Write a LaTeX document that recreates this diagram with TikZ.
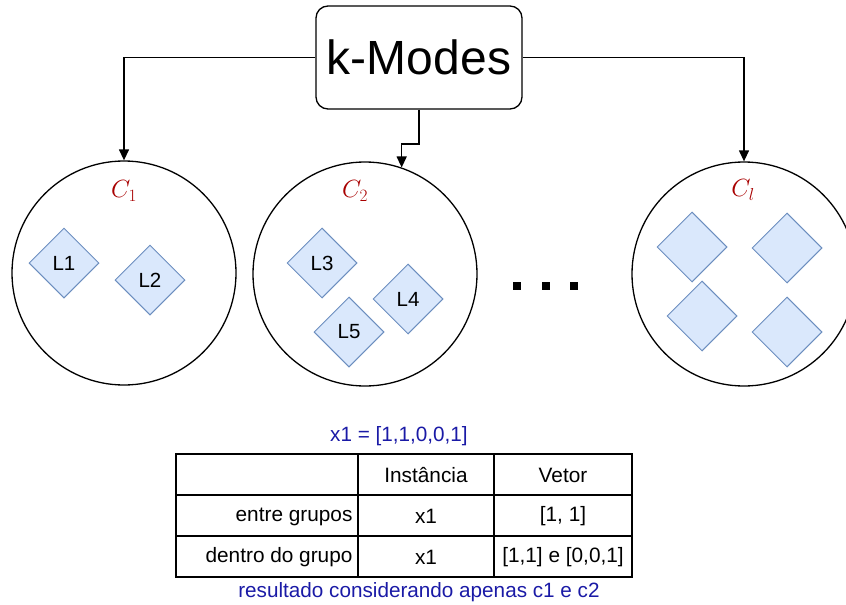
\documentclass[tikz,border=0pt]{standalone}
\usepackage{fontspec}
\setmainfont{Liberation Sans}
\usetikzlibrary{shapes.geometric, arrows.meta, positioning}

\definecolor{itemfill}{HTML}{DAE8FC}
\definecolor{itemdraw}{HTML}{6C8EBF}
\definecolor{clusterred}{HTML}{A80000}
\definecolor{noteblue}{HTML}{1A1AA6}

\begin{document}
\begin{tikzpicture}[x=1pt, y=-1pt,
			algo/.style={rectangle, draw=black, line width=1.3pt, rounded corners=12pt,
					minimum width=206pt, minimum height=103pt, inner sep=0pt, font=\fontsize{48}{56}\selectfont},
			cluster/.style={circle, draw=black, line width=1.3pt, minimum size=224pt, inner sep=0pt},
			item/.style={diamond, draw=itemdraw, line width=1pt, fill=itemfill,
					minimum width=70pt, minimum height=70pt, inner sep=0pt, font=\fontsize{20.5}{24}\selectfont},
			clabel/.style={text=clusterred, font=\fontsize{27}{32}\selectfont},
			note/.style={text=noteblue, font=\fontsize{20.7}{24}\selectfont},
			cell/.style={font=\fontsize{20.8}{24}\selectfont},
			dot/.style={rectangle, fill=black, minimum size=8pt, inner sep=0pt},
			line/.style={draw, line width=1.3pt, -{Triangle[length=11pt, width=10pt]}}]

		\useasboundingbox (0,0) rectangle (846,605);

		% Define nodes
		\node [algo] (kmodes) at (419,57.5) {k-Modes};
		\node [cluster] (c1) at (124,273) {};
		\node [cluster] (c2) at (365,274) {};
		\node [cluster] (cl) at (744,274) {};

		\node [clabel] (c1lab) at (124,191) {$C_1$};
		\node [clabel] (c2lab) at (355,191) {$C_2$};
		\node [clabel] (cllab) at (743,190) {$C_l$};

		% Items inside the clusters
		\node [item] (l1) at (64,263) {L1};
		\node [item] (l2) at (150,280) {L2};
		\node [item] (l3) at (322,263) {L3};
		\node [item] (l4) at (408,299) {L4};
		\node [item] (l5) at (349,332) {L5};
		\node [item] (m1) at (692,247) {};
		\node [item] (m2) at (787,248) {};
		\node [item] (m3) at (702,316) {};
		\node [item] (m4) at (787,332) {};

		\foreach [count=\i] \x in {517,546,574}
			\node [dot] (dot\i) at (\x,286) {};

		% Draw connections
		\coordinate (bend) at (419,144);
		\path [line] (kmodes.west) -| (c1.north);
		\path [line] (kmodes.south) -- (bend) -| (c2.71);
		\path [line] (kmodes.east) -| (cl.north);

		% Table
		\draw [line width=1.2pt] (176,454) rectangle (632,577);
		\draw [line width=1.2pt] (176,495) -- (632,495);
		\draw [line width=1.2pt] (176,536) -- (632,536);
		\draw [line width=1.2pt] (358,454) -- (358,577);
		\draw [line width=1.2pt] (494,454) -- (494,577);

		\node [cell] (hinst) at (426,475) {Instância};
		\node [cell] (hvet) at (563,475) {Vetor};
		\node [cell, anchor=east] (rentre) at (356,516.5) {entre grupos};
		\node [cell] (xentre) at (426,516.5) {x1};
		\node [cell] (ventre) at (563,516.5) {[1, 1]};
		\node [cell, anchor=east] (rdentro) at (356,557) {dentro do grupo};
		\node [cell] (xdentro) at (426,557) {x1};
		\node [cell] (vdentro) at (563,557) {[1,1] e [0,0,1]};

		\node [note] (inst) at (399,436) {x1 = [1,1,0,0,1]};
		\node [note] (result) at (419,592) {resultado considerando apenas c1 e c2};

	\end{tikzpicture}
\end{document}
